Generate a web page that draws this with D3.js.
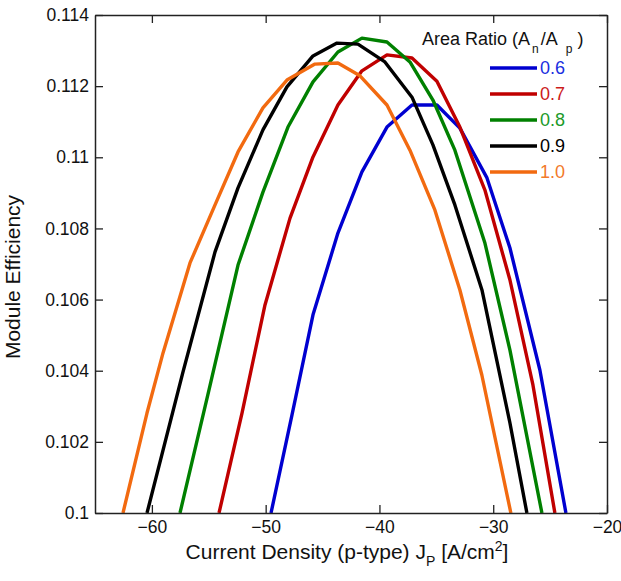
<!DOCTYPE html>
<meta charset="utf-8">
<style>
body { margin: 0; background: #fff; }
text { font-family: "Liberation Sans", Arial, sans-serif; }
</style>
<body>
<script src="https://d3js.org/d3.v7.min.js"></script>
<script>

// area ratio An/Ap for each curve
var ratios = ["0.6", "0.7", "0.8", "0.9", "1.0"];
var colors = ["#0000d0", "#c00000", "#008000", "#000000", "#f26a10"];
var labelColors = ["#1a2ee0", "#cc1a1a", "#1c9a2a", "#000000", "#f27a2a"];

// current density J_P [A/cm2] and module efficiency, per ratio
var jp06  = [-49.53, -47.69, -45.84, -43.65, -41.54, -39.34, -37.14, -34.95, -32.93, -30.55, -28.53, -25.90, -23.61];
var eff06 = [0.1000, 0.10275, 0.10557, 0.10787, 0.10959, 0.11085, 0.11147, 0.11147, 0.11082, 0.10942, 0.10745, 0.10402, 0.1000];

var jp07  = [-54.10, -52.08, -50.06, -47.86, -45.84, -43.65, -41.54, -39.34, -37.14, -34.95, -32.93, -30.73, -28.53, -26.51, -24.58];
var eff07 = [0.1000, 0.10281, 0.10585, 0.10829, 0.11001, 0.11147, 0.11243, 0.11288, 0.11279, 0.11214, 0.11085, 0.10908, 0.10655, 0.10360, 0.1000];

var jp08  = [-57.53, -54.98, -52.43, -50.24, -48.04, -45.84, -43.65, -41.54, -39.34, -37.32, -35.30, -33.37, -30.73, -28.53, -25.72];
var eff08 = [0.1000, 0.10346, 0.10697, 0.10902, 0.11085, 0.11212, 0.11296, 0.11335, 0.11324, 0.11268, 0.11161, 0.11020, 0.10759, 0.10458, 0.1000];

var jp09  = [-60.43, -57.27, -54.45, -52.43, -50.24, -48.13, -45.84, -43.73, -41.89, -39.52, -37.14, -35.30, -33.37, -30.99, -28.53, -27.04];
var eff09 = [0.1000, 0.10396, 0.10734, 0.10914, 0.11077, 0.11198, 0.11285, 0.11321, 0.11318, 0.11268, 0.11169, 0.11035, 0.10866, 0.10627, 0.10253, 0.1000];

var jp10  = [-62.54, -60.43, -59.02, -56.65, -54.45, -52.43, -50.24, -48.13, -45.67, -43.65, -41.71, -39.34, -37.32, -35.13, -32.93, -31.00, -28.45];
var eff10 = [0.1000, 0.10281, 0.10450, 0.10703, 0.10866, 0.11015, 0.11139, 0.11217, 0.11262, 0.11265, 0.11229, 0.11147, 0.11020, 0.10852, 0.10627, 0.10388, 0.1000];

var xTicks = [-60, -50, -40, -30, -20];
var yTicks = [0.1, 0.102, 0.104, 0.106, 0.108, 0.11, 0.112, 0.114];

var series = [[jp06, eff06], [jp07, eff07], [jp08, eff08], [jp09, eff09], [jp10, eff10]];

var margin = {top: 15, right: 14, bottom: 68, left: 95},
    width = 621 - margin.left - margin.right,
    height = 581 - margin.top - margin.bottom;

var x = d3.scaleLinear().domain([-65, -20]).range([0, width]);
var y = d3.scaleLinear().domain([0.1, 0.114]).range([height, 0]);

var svg = d3.select("body").append("svg")
    .attr("width", 621)
    .attr("height", 581)
  .append("g")
    .attr("transform", "translate(" + margin.left + "," + margin.top + ")");

svg.append("clipPath").attr("id", "plot")
  .append("rect").attr("width", width).attr("height", height);

// curves
var line = d3.line()
    .x(function(d) { return x(d[0]); })
    .y(function(d) { return y(d[1]); });

svg.append("g").attr("clip-path", "url(#plot)")
  .selectAll("path")
  .data(series)
  .enter().append("path")
    .attr("fill", "none")
    .attr("stroke", function(d, i) { return colors[i]; })
    .attr("stroke-width", 3.4)
    .attr("stroke-linejoin", "round")
    .attr("d", function(s) { return line(d3.zip(s[0], s[1])); });

// axes with inward ticks on all four sides
function style(g) {
  g.select(".domain").attr("stroke", "#222").attr("stroke-width", 1.5);
  g.selectAll(".tick line").attr("stroke", "#222").attr("stroke-width", 1.3);
  g.selectAll(".tick text").attr("fill", "#111").style("font-size", "17.5px");
}

svg.append("g")
    .attr("transform", "translate(0," + height + ")")
    .call(d3.axisBottom(x).tickValues(xTicks).tickSizeInner(-8).tickSizeOuter(0).tickPadding(8))
    .call(style);

svg.append("g")
    .call(d3.axisTop(x).tickValues(xTicks).tickSizeInner(-8).tickSizeOuter(0).tickFormat(""))
    .call(style);

svg.append("g")
    .call(d3.axisLeft(y).tickValues(yTicks).tickSizeInner(-8).tickSizeOuter(0).tickPadding(6)
      .tickFormat(function(d) { return d3.format("")(+d.toFixed(3)); }))
    .call(style);

svg.append("g")
    .attr("transform", "translate(" + width + ",0)")
    .call(d3.axisRight(y).tickValues(yTicks).tickSizeInner(-8).tickSizeOuter(0).tickFormat(""))
    .call(style);

// axis titles
var xt = svg.append("text")
    .attr("x", width / 2 - 4)
    .attr("y", height + 46)
    .attr("text-anchor", "middle")
    .style("font-size", "21px")
    .attr("fill", "#111");
xt.append("tspan").text("Current Density (p-type) J");
xt.append("tspan").attr("dy", 7).style("font-size", "14px").text("P");
xt.append("tspan").attr("dy", -7).text(" [A/cm");
xt.append("tspan").attr("dy", -8).style("font-size", "14px").text("2");
xt.append("tspan").attr("dy", 8).text("]");

svg.append("text")
    .attr("transform", "translate(" + (-75) + "," + (height / 2 + 13) + ") rotate(-90)")
    .attr("text-anchor", "middle")
    .style("font-size", "21px")
    .attr("fill", "#111")
    .text("Module Efficiency");

// legend
var lt = svg.append("text")
    .attr("x", 327)
    .attr("y", 30)
    .style("font-size", "18px")
    .attr("fill", "#111");
lt.append("tspan").text("Area Ratio (A");
lt.append("tspan").attr("dx", 2).attr("dy", 8).style("font-size", "12px").text("n");
lt.append("tspan").attr("dx", 2).attr("dy", -8).text("/A");
lt.append("tspan").attr("dx", 8).attr("dy", 8).style("font-size", "12px").text("p");
lt.append("tspan").attr("dx", 5).attr("dy", -8).text(")");

var leg = svg.selectAll(".leg")
    .data(ratios)
  .enter().append("g")
    .attr("class", "leg")
    .attr("transform", function(d, i) { return "translate(395," + (53 + i * 26) + ")"; });

leg.append("line")
    .attr("x1", 0).attr("x2", 47)
    .attr("stroke", function(d, i) { return colors[i]; })
    .attr("stroke-width", 3.5);

leg.append("text")
    .attr("x", 50)
    .attr("dy", "0.36em")
    .style("font-size", "18px")
    .attr("fill", function(d, i) { return labelColors[i]; })
    .text(function(d) { return d; });

</script>
</body>
